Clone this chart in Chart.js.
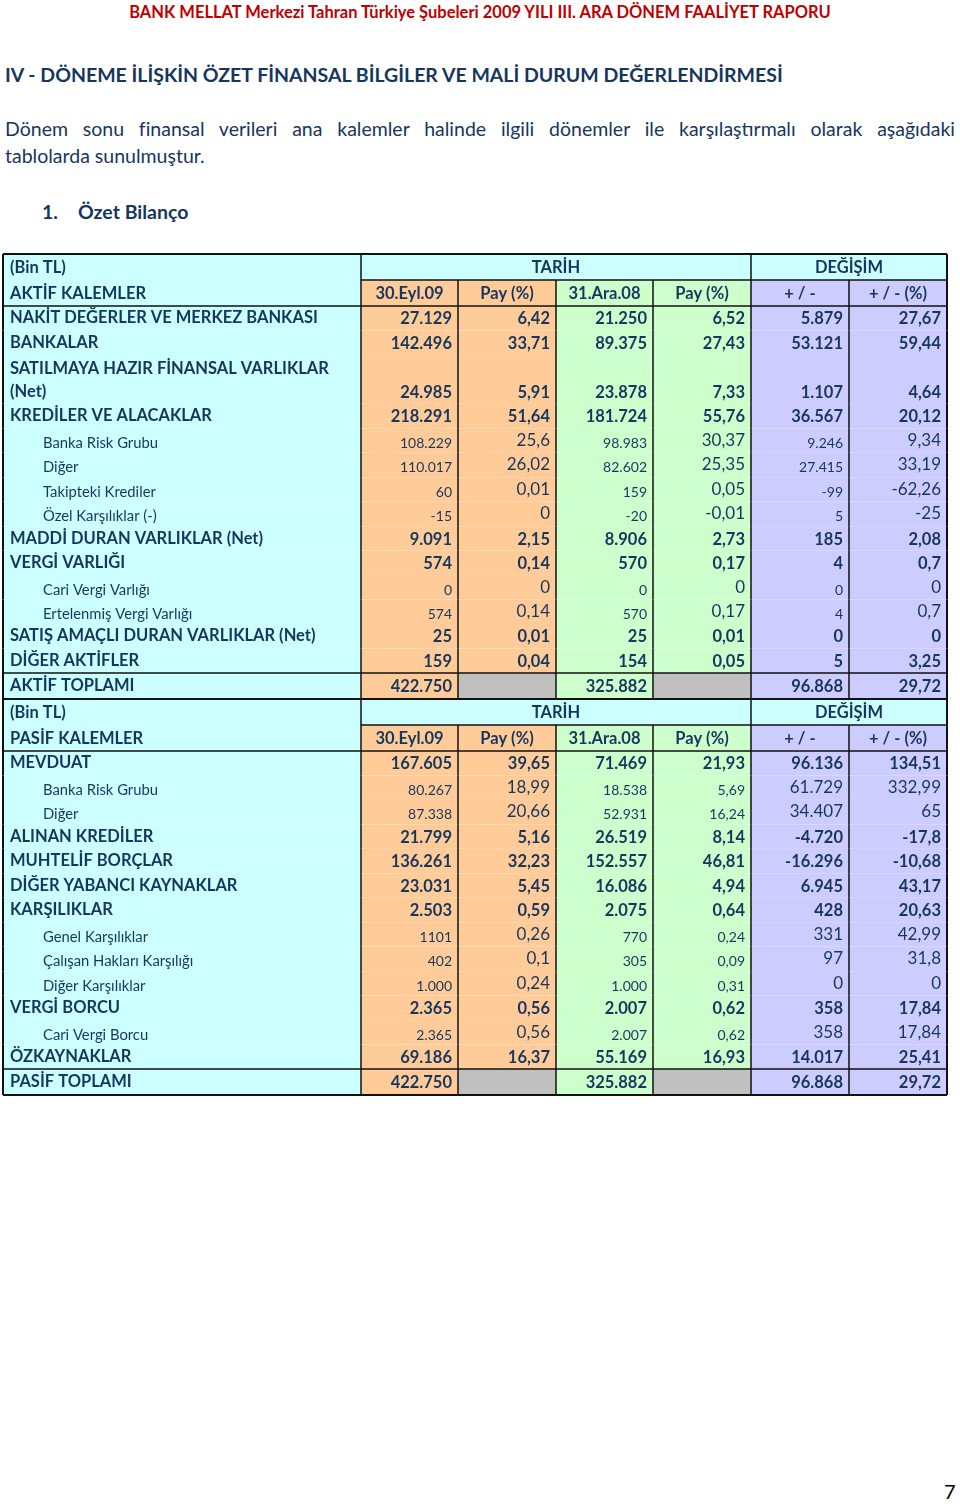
<!DOCTYPE html>
<html lang="tr">
<head>
<meta charset="utf-8">
<title>Özet Bilanço</title>
<script src="https://cdn.jsdelivr.net/npm/chart.js@4"></script>
<style>
  html, body { margin: 0; padding: 0; background: #fff; }
  body { width: 960px; height: 1504px; position: relative; overflow: hidden; font-family: Lato, "Open Sans", sans-serif; color: #17365D; }
  .abs { position: absolute; white-space: nowrap; }
  #topTitle { left: 0; width: 960px; top: 2px; text-align: center; color: #C00000; font-weight: bold; font-size: 16.5px; }
  #secTitle { left: 5px; top: 63px; font-weight: bold; font-size: 19.5px; }
  .introLine { left: 5px; width: 950px; font-size: 19.5px; }
  #intro1 { top: 117px; text-align: justify; text-align-last: justify; }
  #intro2 { top: 144px; }
  #subTitle { left: 42px; top: 200px; font-weight: bold; font-size: 19.5px; }
  #subTitle span { display: inline-block; width: 36px; }
  #pageNo { left: 944px; top: 1479px; font-size: 20px; color: #000; }
  #tableBox { position: absolute; left: 1px; top: 252px; width: 948px; height: 845px; }
</style>
</head>
<body>
<div class="abs" id="topTitle">BANK MELLAT Merkezi Tahran Türkiye Şubeleri 2009 YILI III. ARA DÖNEM FAALİYET RAPORU</div>
<div class="abs" id="secTitle">IV - DÖNEME İLİŞKİN ÖZET FİNANSAL BİLGİLER VE MALİ DURUM DEĞERLENDİRMESİ</div>
<div class="abs introLine" id="intro1">Dönem sonu finansal verileri ana kalemler halinde ilgili dönemler ile karşılaştırmalı olarak aşağıdaki</div>
<div class="abs introLine" id="intro2">tablolarda sunulmuştur.</div>
<div class="abs" id="subTitle"><span>1.</span>Özet Bilanço</div>
<div id="tableBox"><canvas id="bilanco"></canvas></div>
<div class="abs" id="pageNo">7</div>

<script>
// column headings
const unitLabel = '(Bin TL)';
const groupHeads = ['TARİH', 'DEĞİŞİM'];
const colHeads = ['30.Eyl.09', 'Pay (%)', '31.Ara.08', 'Pay (%)', '+ / -', '+ / - (%)'];

// --- AKTİF ---
const aktifLabels = [
    'NAKİT DEĞERLER VE MERKEZ BANKASI', 'BANKALAR', 'SATILMAYA HAZIR FİNANSAL VARLIKLAR\n(Net)',
    'KREDİLER VE ALACAKLAR', 'Banka Risk Grubu', 'Diğer', 'Takipteki Krediler', 'Özel Karşılıklar (-)',
    'MADDİ DURAN VARLIKLAR (Net)', 'VERGİ VARLIĞI', 'Cari Vergi Varlığı', 'Ertelenmiş Vergi Varlığı',
    'SATIŞ AMAÇLI DURAN VARLIKLAR (Net)', 'DİĞER AKTİFLER'
];
const aktifEyl09 = [27129, 142496, 24985, 218291, 108229, 110017, 60, -15, 9091, 574, 0, 574, 25, 159];
const aktifPayEyl09 = [6.42, 33.71, 5.91, 51.64, 25.6, 26.02, 0.01, 0, 2.15, 0.14, 0, 0.14, 0.01, 0.04];
const aktifAra08 = [21250, 89375, 23878, 181724, 98983, 82602, 159, -20, 8906, 570, 0, 570, 25, 154];
const aktifPayAra08 = [6.52, 27.43, 7.33, 55.76, 30.37, 25.35, 0.05, -0.01, 2.73, 0.17, 0, 0.17, 0.01, 0.05];
const aktifFark = [5879, 53121, 1107, 36567, 9246, 27415, -99, 5, 185, 4, 0, 4, 0, 5];
const aktifFarkPct = [27.67, 59.44, 4.64, 20.12, 9.34, 33.19, -62.26, -25, 2.08, 0.7, 0, 0.7, 0, 3.25];
const aktifToplam = [422750, null, 325882, null, 96868, 29.72];

// --- PASİF ---
const pasifLabels = [
    'MEVDUAT', 'Banka Risk Grubu', 'Diğer', 'ALINAN KREDİLER', 'MUHTELİF BORÇLAR', 'DİĞER YABANCI KAYNAKLAR',
    'KARŞILIKLAR', 'Genel Karşılıklar', 'Çalışan Hakları Karşılığı', 'Diğer Karşılıklar', 'VERGİ BORCU',
    'Cari Vergi Borcu', 'ÖZKAYNAKLAR'
];
const pasifEyl09 = [167605, 80267, 87338, 21799, 136261, 23031, 2503, 1101, 402, 1000, 2365, 2365, 69186];
const pasifPayEyl09 = [39.65, 18.99, 20.66, 5.16, 32.23, 5.45, 0.59, 0.26, 0.1, 0.24, 0.56, 0.56, 16.37];
const pasifAra08 = [71469, 18538, 52931, 26519, 152557, 16086, 2075, 770, 305, 1000, 2007, 2007, 55169];
const pasifPayAra08 = [21.93, 5.69, 16.24, 8.14, 46.81, 4.94, 0.64, 0.24, 0.09, 0.31, 0.62, 0.62, 16.93];
const pasifFark = [96136, 61729, 34407, -4720, -16296, 6945, 428, 331, 97, 0, 358, 358, 14017];
const pasifFarkPct = [134.51, 332.99, 65, -17.8, -10.68, 43.17, 20.63, 42.99, 31.8, 0, 17.84, 17.84, 25.41];
const pasifToplam = [422750, null, 325882, null, 96868, 29.72];

// layout / style (not data)
const colEdges = [0, 358, 455, 553, 650, 748, 846, 944];
const headUnits = 26 / 24.46;
const INK = '#17365D';
const CYAN = '#CCFFFF', ORANGE = '#FFCC99', GREEN = '#CCFFCC', LILAC = '#CCCCFF', GREY = '#C0C0C0';
const colFills = [ORANGE, ORANGE, GREEN, GREEN, LILAC, LILAC];

const sections = [
    { head: 'AKTİF KALEMLER', total: 'AKTİF TOPLAMI', labels: aktifLabels,
      cols: [aktifEyl09, aktifPayEyl09, aktifAra08, aktifPayAra08, aktifFark, aktifFarkPct], totals: aktifToplam,
      subRows: [4, 5, 6, 7, 10, 11], subSizes: 'slslsl', plain: [] },
    { head: 'PASİF KALEMLER', total: 'PASİF TOPLAMI', labels: pasifLabels,
      cols: [pasifEyl09, pasifPayEyl09, pasifAra08, pasifPayAra08, pasifFark, pasifFarkPct], totals: pasifToplam,
      subRows: [1, 2, 7, 8, 9, 11], subSizes: 'slssll', plain: [[0, 7]] }
];

function fmtAmount(v, plain) {
    if (v === null) return '';
    const s = Math.abs(v).toString();
    return (v < 0 ? '-' : '') + (plain ? s : s.replace(/\B(?=(\d{3})+(?!\d))/g, '.'));
}
function fmtPct(v) {
    return v === null ? '' : String(v).replace('.', ',');
}

// build row list in row units
const rows = [];
let cursor = 0;
sections.forEach(sec => {
    rows.push({ type: 'group', y0: cursor, y1: cursor + headUnits }); cursor += headUnits;
    rows.push({ type: 'cols', label: sec.head, y0: cursor, y1: cursor + headUnits }); cursor += headUnits;
    sec.labels.forEach((lab, i) => {
        const h = lab.includes('\n') ? 2 : 1;
        const values = sec.cols.map((c, j) => j % 2 === 0
            ? fmtAmount(c[i], sec.plain.some(p => p[0] === j && p[1] === i))
            : fmtPct(c[i]));
        const sub = sec.subRows.includes(i);
        rows.push({ type: 'data', label: lab, values, sub, sizes: sub ? sec.subSizes : null, y0: cursor, y1: cursor + h });
        cursor += h;
    });
    rows.push({ type: 'total', label: sec.total,
        values: sec.totals.map((v, j) => j % 2 === 0 ? fmtAmount(v) : fmtPct(v)), y0: cursor, y1: cursor + headUnits });
    cursor += headUnits;
});
const totalUnits = cursor;

const F = (w, s) => `${w} ${s}px Lato, "Open Sans", sans-serif`;
const BOLD = F('bold', 16.5), SUBLAB = F('normal', 14.8), SMALL = F('normal', 14), LARGE = F('normal', 17);

const tablePlugin = {
    id: 'bilancoTable',
    afterDraw(chart) {
        const { ctx, scales: { x, y } } = chart;
        const X = i => x.getPixelForValue(colEdges[i]);
        const Y = v => y.getPixelForValue(v);
        ctx.save();

        // fills
        rows.forEach(r => {
            const top = Y(r.y0), bot = Y(r.y1);
            ctx.fillStyle = CYAN;
            ctx.fillRect(X(0), top, X(1) - X(0), bot - top);
            for (let c = 0; c < 6; c++) {
                let fill = r.type === 'group' ? CYAN : colFills[c];
                if (r.type === 'total' && r.values[c] === '') fill = GREY;
                ctx.fillStyle = fill;
                ctx.fillRect(X(c + 1), top, X(c + 2) - X(c + 1), bot - top);
            }
        });

        // lines
        ctx.strokeStyle = '#111';
        const hline = (yy, a, b, w) => { ctx.lineWidth = w; ctx.beginPath(); ctx.moveTo(X(a), yy); ctx.lineTo(X(b), yy); ctx.stroke(); };
        const vline = (c, ya, yb, w) => { ctx.lineWidth = w; ctx.beginPath(); ctx.moveTo(X(c), ya); ctx.lineTo(X(c), yb); ctx.stroke(); };
        rows.forEach(r => {
            const top = Y(r.y0), bot = Y(r.y1);
            if (r.type === 'group') {
                hline(top, 0, 7, 2);
                hline(bot, 1, 7, 1.5);
                vline(1, top, bot, 1.5);
                vline(5, top, bot, 1.5);
            } else {
                vline(1, top, bot, 1.5);
                for (let c = 2; c <= 6; c++) vline(c, top, bot, 1.5);
            }
            if (r.type === 'cols') hline(bot, 0, 7, 1.5);
            if (r.type === 'total') { hline(top, 0, 7, 1.5); hline(bot, 0, 7, 2); }
            vline(0, top, bot, 2);
            vline(7, top, bot, 2);
        });

        // text
        ctx.fillStyle = INK;
        ctx.textBaseline = 'alphabetic';
        const pad = 6;
        rows.forEach(r => {
            const bot = Y(r.y1);
            if (r.type === 'group') {
                ctx.font = BOLD;
                ctx.textAlign = 'left';
                ctx.fillText(unitLabel, X(0) + 7, bot - 7);
                ctx.textAlign = 'center';
                ctx.fillText(groupHeads[0], (X(1) + X(5)) / 2, bot - 7);
                ctx.fillText(groupHeads[1], (X(5) + X(7)) / 2, bot - 7);
                return;
            }
            if (r.type === 'cols') {
                ctx.font = BOLD;
                ctx.textAlign = 'left';
                ctx.fillText(r.label, X(0) + 7, bot - 7);
                ctx.textAlign = 'center';
                colHeads.forEach((h, c) => ctx.fillText(h, (X(c + 1) + X(c + 2)) / 2, bot - 7));
                return;
            }
            const base = bot - (r.type === 'total' ? 7 : 6);
            ctx.textAlign = 'left';
            if (r.sub) {
                ctx.font = SUBLAB;
                ctx.fillText(r.label, X(0) + 40, bot - 5);
            } else {
                ctx.font = BOLD;
                const lines = r.label.split('\n');
                lines.forEach((ln, k) => ctx.fillText(ln, X(0) + 7, base - 1 - (lines.length - 1 - k) * 23));
            }
            ctx.textAlign = 'right';
            r.values.forEach((v, c) => {
                if (v === '') return;
                let yb = base;
                if (r.sub) {
                    const big = r.sizes[c] === 'l';
                    ctx.font = big ? LARGE : SMALL;
                    yb = big ? bot - 7 : bot - 5;
                } else {
                    ctx.font = BOLD;
                }
                ctx.fillText(v, X(c + 2) - pad, yb);
            });
        });
        ctx.restore();
    }
};

new Chart(document.getElementById('bilanco'), {
    type: 'scatter',
    data: { datasets: [{ data: [], pointRadius: 0 }] },
    options: {
        responsive: true,
        maintainAspectRatio: false,
        animation: false,
        events: [],
        layout: { padding: 2 },
        scales: {
            x: { type: 'linear', min: 0, max: colEdges[colEdges.length - 1], display: false },
            y: { type: 'linear', min: 0, max: totalUnits, reverse: true, display: false }
        },
        plugins: { legend: { display: false }, tooltip: { enabled: false } }
    },
    plugins: [tablePlugin]
});
</script>
</body>
</html>
